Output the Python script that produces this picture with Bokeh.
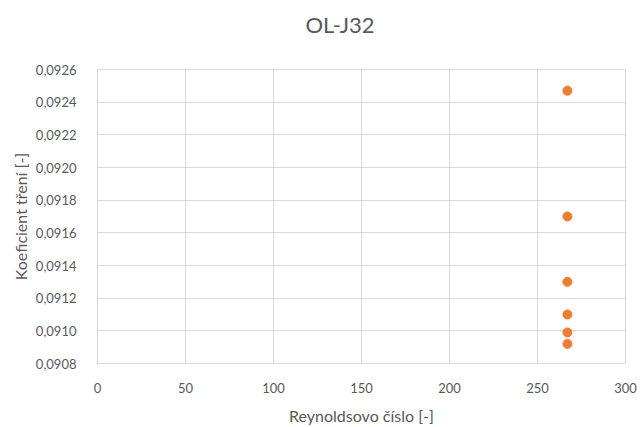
from bokeh.plotting import figure
from bokeh.models import FixedTicker, CustomJSTickFormatter, Range1d, Title
from bokeh.embed import file_html
from bokeh.resources import INLINE

# Data
reynolds = [267, 267, 267, 267, 267, 267]
friction = [0.09247, 0.09170, 0.09130, 0.09110, 0.09099, 0.09092]

x_ticks = [0, 50, 100, 150, 200, 250, 300]
y_ticks = [0.0908, 0.0910, 0.0912, 0.0914, 0.0916, 0.0918, 0.0920, 0.0922, 0.0924, 0.0926]

title_text = "OL-J32"
x_label = "Reynoldsovo číslo [-]"
y_label = "Koeficient tření [-]"

FONT = "Lato"
GRAY = "#595959"
GRID = "#D9D9D9"

p = figure(width=641, height=427, output_backend="svg", toolbar_location=None,
           title_location=None,
           x_range=Range1d(0, 300), y_range=Range1d(0.0908, 0.0926),
           min_border_left=97, min_border_right=16, min_border_top=10, min_border_bottom=62)

# spacer between the frame and the title (closest to the frame)
p.add_layout(Title(text=" ", text_font_size="6px", standoff=12, text_color="white"), "above")
# chart title
p.add_layout(Title(text=title_text, align="left", offset=208, vertical_align="top",
                   standoff=20, text_font=FONT, text_font_size="22px",
                   text_font_style="normal", text_color=GRAY), "above")

p.scatter(reynolds, friction, size=9, color="#ED7D31", line_color="#ED7D31")

p.outline_line_color = GRID
p.xgrid.grid_line_color = GRID
p.ygrid.grid_line_color = GRID
p.xaxis.ticker = FixedTicker(ticks=x_ticks)
p.yaxis.ticker = FixedTicker(ticks=y_ticks)
p.yaxis.formatter = CustomJSTickFormatter(code="return tick.toFixed(4).replace('.', ',');")

for ax in (p.xaxis[0], p.yaxis[0]):
    ax.axis_line_color = GRID
    ax.major_tick_line_color = None
    ax.minor_tick_line_color = None
    ax.major_label_text_font = FONT
    ax.major_label_text_font_size = "13px"
    ax.major_label_text_color = GRAY
    ax.axis_label_text_font = FONT
    ax.axis_label_text_font_size = "16px"
    ax.axis_label_text_font_style = "normal"
    ax.axis_label_text_color = GRAY

p.xaxis.axis_label = x_label
p.yaxis.axis_label = y_label
p.xaxis.major_label_standoff = 13
p.yaxis.major_label_standoff = 15
p.xaxis.axis_label_standoff = 10
p.yaxis.axis_label_standoff = 3
p.background_fill_color = "white"
p.border_fill_color = "white"

open("out.html", "w").write(file_html(p, INLINE))
